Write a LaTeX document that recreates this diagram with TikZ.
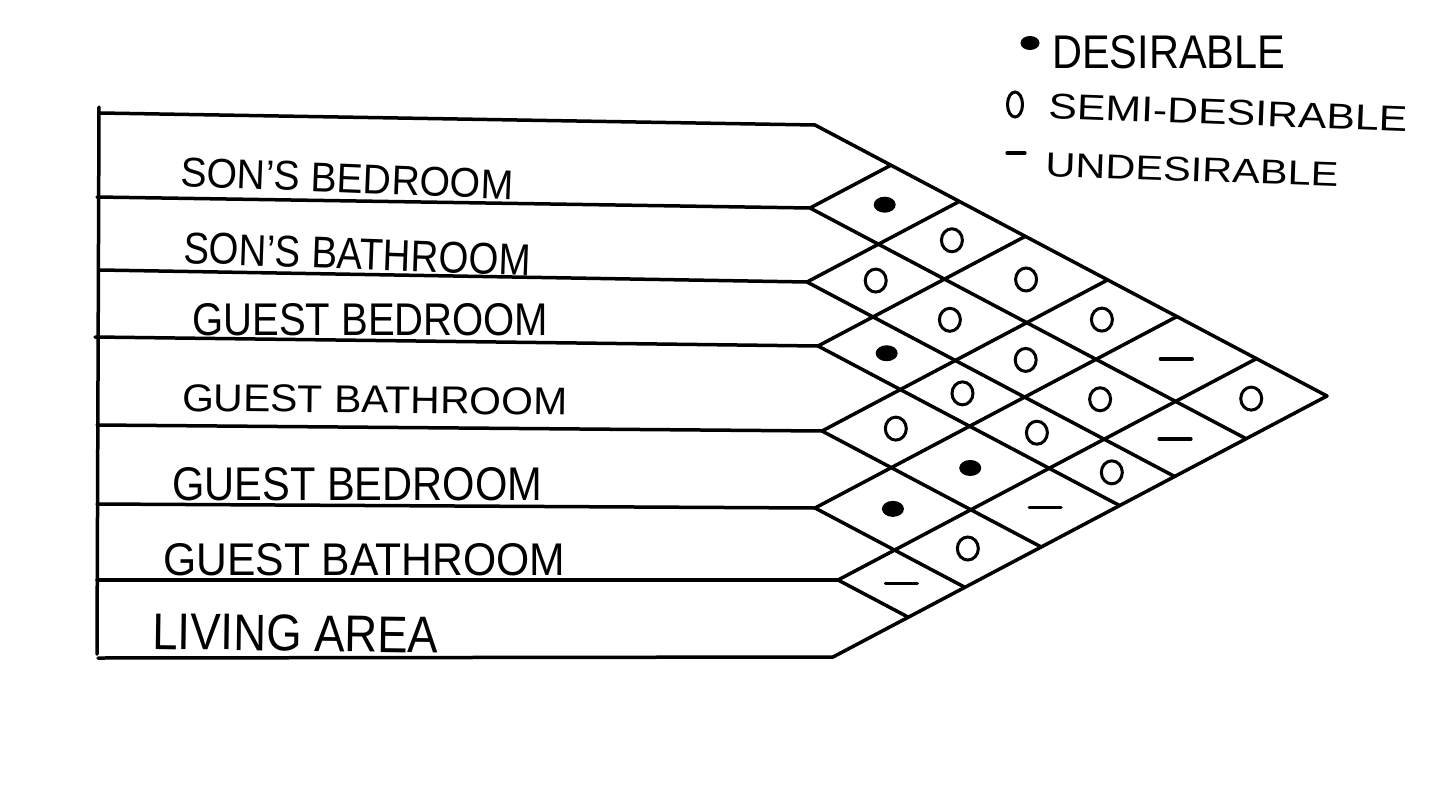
\documentclass[tikz,border=0pt]{standalone}
\usepackage{fontspec}
\setmainfont{Liberation Sans}
\usepackage{graphicx}
\usetikzlibrary{calc}
\begin{document}
\begin{tikzpicture}[x=1pt,y=-1pt,
  grid/.style={line width=3.5pt, line cap=round, line join=round},
  lbl/.style={anchor=base west, inner sep=0pt},
  markO/.style={line width=3pt},
  markU/.style={line width=3.2pt, line cap=round}
  ]
\useasboundingbox (0,0) rectangle (1440,790);
\fill[white] (0,0) rectangle (1440,790);

% left ends and right ends of the row boundaries
\coordinate (L0) at (100,113); \coordinate (B0) at (815,125);
\coordinate (L1) at (97,197);  \coordinate (B1) at (810,208);
\coordinate (L2) at (100,270); \coordinate (B2) at (807,282);
\coordinate (L3) at (95,337);  \coordinate (B3) at (818,346);
\coordinate (L4) at (97,425);  \coordinate (B4) at (822,431);
\coordinate (L5) at (97,504);  \coordinate (B5) at (815,508);
\coordinate (L6) at (97,580);  \coordinate (B6) at (838,580);
\coordinate (L7) at (98,658);  \coordinate (B7) at (833,657);
\coordinate (A) at (1327,396);
\coordinate (V0) at (99,107);  \coordinate (V1) at (97,654);

\draw[grid] (V0) -- (V1);
\foreach \k in {0,...,7} \draw[grid] (L\k) -- (B\k);
\draw[grid] (B0) -- (A) -- (B7);

% inner diagonals of the matrix
\foreach \X/\Y in {810/208,807/282,818/346,822/431,815/508,838/580} {
  \pgfmathsetmacro\qxd{(657-\Y)*0.9452+(833+\X)/2}
  \pgfmathsetmacro\qyd{\Y+0.529*(\qxd-\X)}
  \pgfmathsetmacro\qxu{(\Y-125)*0.9452+(\X+815)/2}
  \pgfmathsetmacro\qyu{\Y-0.529*(\qxu-\X)}
  \draw[grid] (\qxu,\qyu) -- (\X,\Y) -- (\qxd,\qyd);
}

% cell centres
\def\MX{{0,812.5,808.5,812.5,820,818.5,826.5,835.5}}
\def\MY{{0,166.5,245,314,388.5,469.5,544,618.5}}
\foreach \i/\j in {1/2,2/3,3/4,4/5,5/6,6/7,1/3,2/4,3/5,4/6,5/7,
                   1/4,2/5,3/6,4/7,1/5,2/6,3/7,1/6,2/7,1/7} {
  \pgfmathsetmacro\qxa{\MX[\i]}
  \pgfmathsetmacro\qya{\MY[\i]}
  \pgfmathsetmacro\qxb{\MX[\j]}
  \pgfmathsetmacro\qyb{\MY[\j]}
  \pgfmathsetmacro\cX{(\qyb-\qya)*0.9452+(\qxa+\qxb)/2}
  \pgfmathsetmacro\cY{\qya+0.529*(\cX-\qxa)}
  \coordinate (c\i\j) at (\cX,\cY);
}
% desirable
\foreach \c in {c12,c34,c56,c46}
  \fill (\c) ellipse [x radius=11, y radius=8];
% semi-desirable
\foreach \c in {c23,c45,c13,c24,c35,c57,c14,c25,c36,c15,c26,c37,c17}
  \draw[markO] (\c) ellipse [x radius=10.5, y radius=11.5];
% undesirable
\foreach \c in {c67,c47,c16,c27}
  \draw[markU] ($(\c)+(-16,0)$) -- ($(\c)+(16,0)$);

% row labels
\node[lbl, rotate=-2.3] (r1) at (180,186) {\resizebox{333pt}{29pt}{SON'S BEDROOM}};
\node[lbl, rotate=-2.1] (r2) at (183,263) {\resizebox{347pt}{31pt}{SON'S BATHROOM}};
\node[lbl] (r3) at (192,335) {\resizebox{356pt}{32pt}{GUEST BEDROOM}};
\node[lbl, rotate=-0.6] (r4) at (182,411) {\resizebox{385pt}{27pt}{GUEST BATHROOM}};
\node[lbl] (r5) at (172,500) {\resizebox{370pt}{33pt}{GUEST BEDROOM}};
\node[lbl] (r6) at (163,575) {\resizebox{402pt}{32pt}{GUEST BATHROOM}};
\node[lbl, rotate=-0.8] (r7) at (152,649) {\resizebox{286pt}{36pt}{LIVING AREA}};

% legend
\coordinate (kD) at (1030,43);
\coordinate (kO) at (1015,104.5);
\coordinate (kU) at (1016,153);
\fill (kD) ellipse [x radius=9.5, y radius=7];
\draw[markO] (kO) ellipse [x radius=7.5, y radius=12.5];
\draw[markU] ($(kU)+(-9,0)$) -- ($(kU)+(9,0)$);
\node[lbl] (tD) at (1052,68) {\resizebox{233pt}{33pt}{DESIRABLE}};
\node[lbl, rotate=-2.2] (tO) at (1048,118) {\resizebox{359pt}{25pt}{SEMI-DESIRABLE}};
\node[lbl, rotate=-2.1] (tU) at (1045,176) {\resizebox{293pt}{24pt}{UNDESIRABLE}};
\end{tikzpicture}
\end{document}
